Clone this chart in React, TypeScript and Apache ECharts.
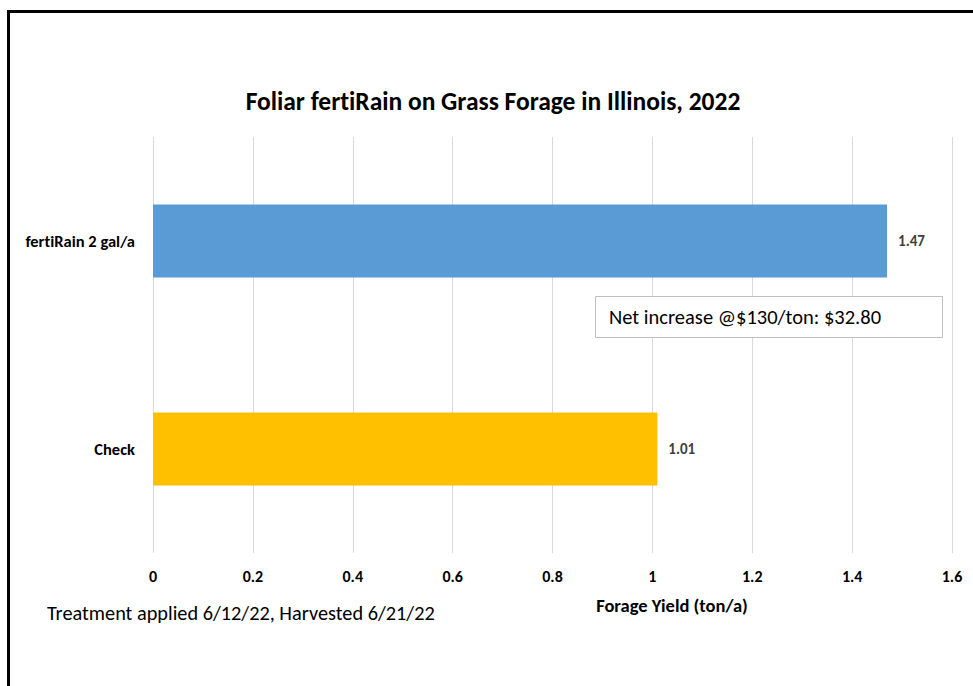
import React, { useEffect, useRef } from "react";
import * as echarts from "echarts";

const categories = ["Check", "fertiRain 2 gal/a"];
const yieldValues = [1.01, 1.47];
const barColors = ["#FFC000", "#5B9BD5"];
const titleText = "Foliar fertiRain on Grass Forage in Illinois, 2022";
const axisTitle = "Forage Yield (ton/a)";
const noteText = "Treatment applied 6/12/22, Harvested 6/21/22";
const boxText = "Net increase @$130/ton: $32.80";

const FONT = "Carlito, Lato, 'Liberation Sans', sans-serif";

export default function App() {
  const ref = useRef<HTMLDivElement>(null);
  useEffect(() => {
    if (!ref.current) return;
    const chart = echarts.init(ref.current, undefined, { renderer: "svg" });
    chart.setOption({
      animation: false,
      backgroundColor: "#ffffff",
      textStyle: { fontFamily: FONT },
      grid: { left: 153, right: 21, top: 137, bottom: 133, containLabel: false },
      xAxis: {
        type: "value",
        min: 0,
        max: 1.6,
        interval: 0.2,
        axisLine: { show: false },
        axisTick: { show: false },
        splitLine: { show: true, lineStyle: { color: "#D9D9D9", width: 1 } },
        axisLabel: {
          color: "#000000",
          fontWeight: "bold",
          fontSize: 16,
          fontFamily: FONT,
          margin: 15,
          formatter: (v: number) => String(Math.round(v * 10) / 10),
        },
      },
      yAxis: {
        type: "category",
        data: categories,
        axisLine: { show: false },
        axisTick: { show: false },
        splitLine: { show: false },
        axisLabel: {
          color: "#000000",
          fontWeight: "bold",
          fontSize: 16.5,
          fontFamily: FONT,
          margin: 18,
        },
      },
      series: [
        {
          type: "bar",
          data: yieldValues.map((v, i) => ({ value: v, itemStyle: { color: barColors[i] } })),
          barWidth: "35%",
          label: {
            show: true,
            position: "right",
            distance: 11,
            color: "#404040",
            fontWeight: "bold",
            fontSize: 15,
            fontFamily: FONT,
            formatter: (p: any) => p.value.toFixed(2),
          },
        },
      ],
      graphic: [
        {
          type: "polyline",
          shape: { points: [[8.5, 690], [8.5, 11.5], [980, 11.5]] },
          style: { stroke: "#000000", lineWidth: 3, fill: "none" },
          z: 100,
        },
        {
          type: "text",
          x: 493,
          y: 101,
          style: {
            text: titleText,
            fontFamily: FONT,
            fontSize: 25.5,
            fontWeight: "bold",
            fill: "#000000",
            textAlign: "center",
            textVerticalAlign: "middle",
          },
        },
        {
          type: "rect",
          shape: { x: 595.5, y: 296.5, width: 347, height: 41 },
          style: { fill: "#ffffff", stroke: "#BFBFBF", lineWidth: 1 },
          z: 50,
        },
        {
          type: "text",
          x: 609,
          y: 317,
          z: 51,
          style: {
            text: boxText,
            fontFamily: FONT,
            fontSize: 20.5,
            fill: "#000000",
            textAlign: "left",
            textVerticalAlign: "middle",
          },
        },
        {
          type: "text",
          x: 672,
          y: 605,
          style: {
            text: axisTitle,
            fontFamily: FONT,
            fontSize: 18.5,
            fontWeight: "bold",
            fill: "#000000",
            textAlign: "center",
            textVerticalAlign: "middle",
          },
        },
        {
          type: "text",
          x: 47,
          y: 613,
          style: {
            text: noteText,
            fontFamily: FONT,
            fontSize: 20.3,
            fill: "#000000",
            textAlign: "left",
            textVerticalAlign: "middle",
          },
        },
      ],
    });
    return () => chart.dispose();
  }, []);
  return (
    <div
      ref={ref}
      style={{
        position: "fixed",
        left: 0,
        top: 0,
        width: 973,
        height: 686,
        fontVariantLigatures: "none",
      }}
    />
  );
}
